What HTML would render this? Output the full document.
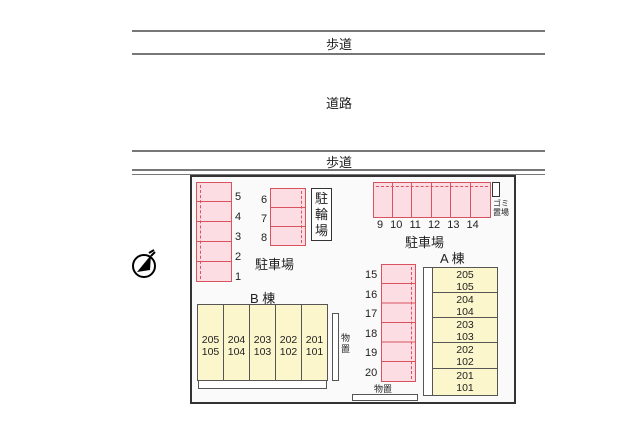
<!DOCTYPE html><html><head><meta charset="utf-8"><style>
body{margin:0;width:640px;height:427px;background:#fff;position:relative;overflow:hidden;font-family:"Liberation Sans","Noto Sans CJK JP",sans-serif;color:#222}
div{position:absolute;box-sizing:border-box}
.hl{left:132px;width:413px;height:2px;background:#777}
.t{font-size:13px;white-space:nowrap}
.p{background:#fbdde3;border:1px solid #d9535f}
.y{background:#fbf6cc;border:1px solid #555;font-size:10.5px;text-align:center;line-height:12px}
.n{font-size:11px}
</style></head><body>
<div class="hl" style="top:30px"></div>
<div class="hl" style="top:53px"></div>
<div class="hl" style="top:150px"></div>
<div class="hl" style="top:169px"></div>
<div class="hl" style="top:174px;height:1px"></div>
<div class="t" style="left:326px;top:34px">歩道</div>
<div class="t" style="left:326px;top:93px">道路</div>
<div class="t" style="left:326px;top:152px">歩道</div>
<div style="left:190px;top:175px;width:326px;height:229px;border:2px solid #333;background:#fafafa"></div>
<!-- 1-5 -->
<div class="p" style="left:196px;top:182px;width:36px;height:100px"></div>
<div style="left:196px;top:201px;width:36px;height:1px;background:#d9535f"></div>
<div style="left:196px;top:221px;width:36px;height:1px;background:#d9535f"></div>
<div style="left:196px;top:241px;width:36px;height:1px;background:#d9535f"></div>
<div style="left:196px;top:261px;width:36px;height:1px;background:#d9535f"></div>
<div style="left:200px;top:185px;width:0;height:94px;border-left:1px dashed #d9535f"></div>
<div class="n" style="left:235px;top:187px;line-height:20px">5<br>4<br>3<br>2<br>1</div>
<!-- 6-8 -->
<div class="p" style="left:270px;top:188px;width:36px;height:58px"></div>
<div style="left:270px;top:207px;width:36px;height:1px;background:#d9535f"></div>
<div style="left:270px;top:226px;width:36px;height:1px;background:#d9535f"></div>
<div style="left:301px;top:191px;width:0;height:52px;border-left:1px dashed #d9535f"></div>
<div class="n" style="left:261px;top:191px;line-height:19px">6<br>7<br>8</div>
<div style="left:311px;top:188px;width:21px;height:53px;border:1px solid #333;background:#fff;font-size:13px;line-height:16px;text-align:center;padding-top:2px">駐<br>輪<br>場</div>
<div class="t" style="left:255px;top:254px">駐車場</div>
<!-- 9-14 -->
<div class="p" style="left:373px;top:182px;width:118px;height:36px"></div>
<div style="left:392px;top:182px;width:1px;height:36px;background:#d9535f;box-shadow:19px 0 #d9535f,39px 0 #d9535f,58px 0 #d9535f,78px 0 #d9535f"></div>
<div style="left:376px;top:186px;width:112px;height:0;border-top:1px dashed #d9535f"></div>
<div class="n" style="left:377px;top:219px;word-spacing:4px">9 10 11 12 13 14</div>
<div style="left:492px;top:182px;width:8px;height:15px;border:1px solid #333;background:#fff"></div>
<div style="left:493px;top:199px;font-size:8px;line-height:9px">ゴミ<br>置場</div>
<div class="t" style="left:405px;top:232px">駐車場</div>
<div class="t" style="left:440px;top:248px">A 棟</div>
<!-- 15-20 -->
<div class="p" style="left:381px;top:264px;width:35px;height:118px"></div>
<div style="left:381px;top:283px;width:35px;height:1px;background:#d9535f;box-shadow:0 19.5px #d9535f,0 39px #d9535f,0 58.5px #d9535f,0 78px #d9535f"></div>
<div style="left:411px;top:267px;width:0;height:112px;border-left:1px dashed #d9535f"></div>
<div class="n" style="left:365px;top:266px;line-height:19.5px">15<br>16<br>17<br>18<br>19<br>20</div>
<!-- A -->
<div style="left:423px;top:267px;width:10px;height:129px;border:1px solid #555;background:#fff"></div>
<div class="y" style="left:432px;top:267px;width:66px;height:26px;padding-top:1px">205<br>105</div>
<div class="y" style="left:432px;top:292px;width:66px;height:26px;padding-top:1px">204<br>104</div>
<div class="y" style="left:432px;top:317px;width:66px;height:26px;padding-top:1px">203<br>103</div>
<div class="y" style="left:432px;top:342px;width:66px;height:27px;padding-top:1px">202<br>102</div>
<div class="y" style="left:432px;top:368px;width:66px;height:28px;padding-top:1px">201<br>101</div>
<!-- B -->
<div class="t" style="left:250px;top:288px">B 棟</div>
<div style="left:198px;top:380px;width:129px;height:9px;border:1px solid #555;background:#fff"></div>
<div class="y" style="left:197px;top:304px;width:27px;height:77px;padding-top:29px">205<br>105</div>
<div class="y" style="left:223px;top:304px;width:27px;height:77px;padding-top:29px">204<br>104</div>
<div class="y" style="left:249px;top:304px;width:27px;height:77px;padding-top:29px">203<br>103</div>
<div class="y" style="left:275px;top:304px;width:27px;height:77px;padding-top:29px">202<br>102</div>
<div class="y" style="left:301px;top:304px;width:27px;height:77px;padding-top:29px">201<br>101</div>
<div style="left:332px;top:313px;width:7px;height:68px;border:1px solid #555;background:#fff"></div>
<div style="left:341px;top:333px;font-size:9px;line-height:11px">物<br>置</div>
<div style="left:374px;top:382px;font-size:9px">物置</div>
<div style="left:352px;top:394px;width:66px;height:7px;border:1px solid #555;background:#fff"></div>
<!-- compass -->
<svg style="position:absolute;left:128px;top:244px" width="36" height="40" viewBox="0 0 36 40">
<circle cx="16" cy="22" r="11" fill="#fff" stroke="#000" stroke-width="2"/>
<path d="M23 11 L9 28 L22 26 Z" fill="#000"/>
<path d="M21 9 L26 6 M23 12 L27 8" stroke="#000" stroke-width="2"/>
</svg>
</body></html>
